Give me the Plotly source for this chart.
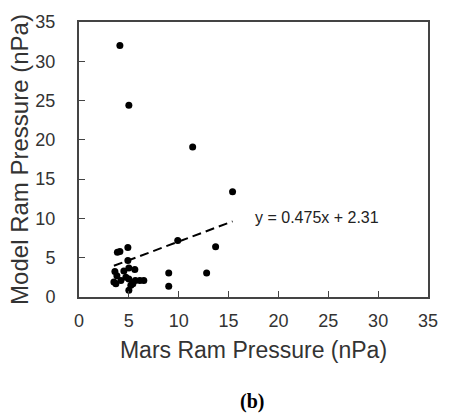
import plotly.graph_objects as go

mars_ram = [4.1, 5.0, 11.4, 15.4, 13.7, 12.8, 9.9, 9.0, 9.0,
            3.85, 4.1, 4.9, 4.9, 5.0, 5.2,
            3.6, 3.8, 3.5, 3.7, 4.2, 4.5, 4.7, 5.0, 5.0, 5.6, 5.4, 5.65, 6.1, 6.5]
model_ram = [32.0, 24.4, 19.1, 13.4, 6.4, 3.05, 7.2, 3.05, 1.36,
             5.7, 5.8, 6.3, 4.66, 0.87, 1.5,
             3.25, 2.7, 1.9, 1.7, 2.1, 3.3, 2.5, 2.3, 3.7, 3.5, 1.7, 2.1, 2.1, 2.1]

fit_slope = 0.475
fit_intercept = 2.31
fit_x = [3.5, 15.4]
fit_y = [fit_slope * v + fit_intercept for v in fit_x]

x_ticks = [0, 5, 10, 15, 20, 25, 30, 35]
y_ticks = [0, 5, 10, 15, 20, 25, 30, 35]

font_sans = "Liberation Sans, Arial, sans-serif"
axis_color = "#444444"

fig = go.Figure()
fig.add_trace(go.Scatter(x=fit_x, y=fit_y, mode="lines",
                         line=dict(color="black", width=2, dash="9px,5px"),
                         showlegend=False, hoverinfo="skip"))
fig.add_trace(go.Scatter(x=mars_ram, y=model_ram, mode="markers",
                         marker=dict(color="black", size=7),
                         showlegend=False))

fig.add_annotation(x=17.4, y=10.1, xref="x", yref="y",
                   text="y = 0.475x + 2.31", showarrow=False, xanchor="left",
                   font=dict(family=font_sans, size=16, color="#222222"))
fig.add_annotation(x=0.497, y=-0.43, xref="paper", yref="paper",
                   text="<b>(b)</b>", showarrow=False,
                   font=dict(family="Liberation Serif, Times New Roman, serif", size=20, color="black"))

fig.update_layout(
    width=450, height=413,
    margin=dict(l=79, r=14, t=14, b=116),
    paper_bgcolor="white", plot_bgcolor="white",
    font=dict(family=font_sans, color="#222222"),
    xaxis=dict(range=[0, 35], tickvals=x_ticks, ticks="inside", ticklen=6, tickcolor=axis_color,
               showline=True, linecolor=axis_color, linewidth=2, mirror=True, showgrid=False,
               zeroline=False, tickfont=dict(size=18, color="#333333"),
               ticklabelstandoff=6,
               title=dict(text="Mars Ram Pressure (nPa)", font=dict(size=23, color="#333333"), standoff=12)),
    yaxis=dict(range=[0, 35], tickvals=y_ticks, ticks="inside", ticklen=6, tickcolor=axis_color,
               showline=True, linecolor=axis_color, linewidth=2, mirror=True, showgrid=False,
               zeroline=False, tickfont=dict(size=18, color="#333333"),
               ticklabelstandoff=18,
               title=dict(text="Model Ram Pressure (nPa)", font=dict(size=24, color="#333333"), standoff=0)),
)

fig.write_html("out.html")
